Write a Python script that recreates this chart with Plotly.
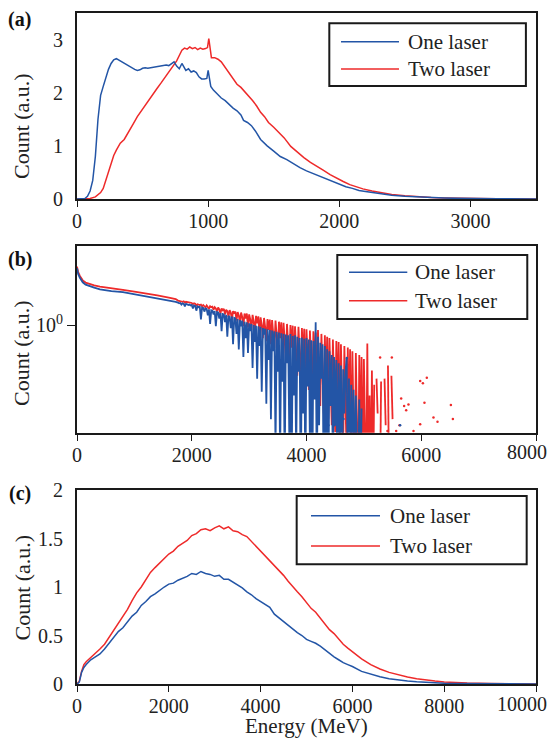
import plotly.graph_objects as go

BLUE = "#2355a6"
RED = "#ee2a2a"
INK = "#1a1a1a"
FONT = "Liberation Serif"

# ---- panel (a): linear spectra ----
energy_a_one = [0, 40, 60, 80, 100, 120, 140, 160, 180, 200, 220, 240, 260, 280, 300,
                320, 340, 360, 380, 400, 420, 440, 460, 480, 500, 520, 540, 560, 580,
                600, 620, 640, 660, 680, 700, 720, 740, 760, 780, 800, 810, 830, 850,
                870, 890, 910, 930, 950, 970, 990, 1000, 1010, 1020, 1040, 1060, 1080,
                1100, 1130, 1160, 1190, 1220, 1250, 1270, 1300, 1330, 1360, 1400, 1450,
                1500, 1550, 1600, 1650, 1700, 1750, 1800, 1850, 1900, 1950, 2000, 2050,
                2100, 2150, 2200, 2300, 2400, 2500, 2600, 2700, 2800, 2900, 3000, 3200,
                3500]
count_a_one = [0, 0, 0.01, 0.05, 0.15, 0.35, 0.8, 1.5, 1.95, 2.12, 2.3, 2.44, 2.55, 2.62,
               2.64, 2.61, 2.58, 2.56, 2.53, 2.5, 2.47, 2.44, 2.42, 2.43, 2.46, 2.47, 2.46,
               2.47, 2.47, 2.49, 2.5, 2.51, 2.51, 2.52, 2.51, 2.55, 2.58, 2.5, 2.45, 2.55,
               2.5, 2.42, 2.45, 2.39, 2.41, 2.38, 2.3, 2.26, 2.26, 2.27, 2.42, 2.3, 2.12,
               2.05, 2.0, 1.95, 1.9, 1.85, 1.78, 1.71, 1.66, 1.58, 1.48, 1.44, 1.38, 1.28,
               1.12, 1.0, 0.9, 0.8, 0.74, 0.66, 0.59, 0.53, 0.48, 0.42, 0.37, 0.32, 0.27,
               0.23, 0.2, 0.16, 0.14, 0.1, 0.07, 0.05, 0.035, 0.025, 0.018, 0.012, 0.008,
               0.004, 0.002]
energy_a_two = [0, 60, 100, 140, 180, 200, 230, 260, 280, 300, 330, 360, 380, 400, 430,
                460, 490, 520, 550, 580, 610, 640, 670, 700, 730, 760, 780, 800, 820, 840,
                860, 880, 900, 920, 940, 960, 980, 995, 1005, 1015, 1025, 1050, 1075, 1100,
                1130, 1160, 1190, 1220, 1250, 1280, 1310, 1340, 1370, 1400, 1430, 1460,
                1500, 1540, 1580, 1630, 1680, 1730, 1780, 1830, 1880, 1930, 1980, 2030,
                2080, 2130, 2180, 2250, 2330, 2400, 2500, 2600, 2700, 2800, 2900, 3000,
                3200, 3500]
count_a_two = [0, 0, 0.01, 0.04, 0.12, 0.2, 0.45, 0.68, 0.82, 0.92, 1.05, 1.12, 1.2, 1.28,
               1.42, 1.55, 1.66, 1.76, 1.88, 1.98, 2.08, 2.18, 2.28, 2.38, 2.48, 2.6, 2.7,
               2.8, 2.84, 2.82, 2.86, 2.83, 2.85, 2.81, 2.84, 2.82, 2.83, 2.85, 3.02, 2.8,
               2.66, 2.66, 2.63, 2.58, 2.48, 2.38, 2.28, 2.16, 2.1, 2.02, 1.95, 1.85, 1.75,
               1.63, 1.55, 1.44, 1.35, 1.25, 1.15, 0.99, 0.88, 0.78, 0.69, 0.62, 0.54, 0.46,
               0.39, 0.33, 0.27, 0.23, 0.19, 0.15, 0.11, 0.085, 0.06, 0.04, 0.028, 0.019,
               0.012, 0.008, 0.004, 0.002]

# ---- panel (b): log spectra ----
energy_b = [0, 20, 50, 100, 150, 200, 300, 400, 500, 600, 800, 1000, 1200, 1400, 1600,
            1720,
            1760, 1780, 1800, 1820, 1840, 1860, 1880, 1900, 1920, 1940,
            1960, 1980, 2000, 2020, 2040, 2060, 2080, 2100, 2120, 2140,
            2160, 2180, 2200, 2220, 2240, 2260, 2280, 2300, 2320, 2340,
            2360, 2380, 2400, 2420, 2440, 2460, 2480, 2500, 2520, 2540,
            2560, 2580, 2600, 2620, 2640, 2660, 2680, 2700, 2720, 2740,
            2760, 2780, 2800, 2820, 2840, 2860, 2880, 2900, 2920, 2940,
            2960, 2980, 3000, 3020, 3040, 3060, 3080, 3100, 3120, 3140,
            3160, 3180, 3200, 3220, 3240, 3260, 3280, 3300, 3320, 3340,
            3360, 3380, 3400, 3420, 3440, 3460, 3480, 3500, 3520, 3540,
            3560, 3580, 3600, 3620, 3640, 3660, 3680, 3700, 3720, 3740,
            3760, 3780, 3800, 3820, 3840, 3860, 3880, 3900, 3920, 3940,
            3960, 3980, 4000, 4020, 4040, 4060, 4080, 4100, 4120, 4140,
            4160, 4180, 4200, 4220, 4240, 4260, 4280, 4300, 4320, 4340,
            4360, 4380, 4400, 4420, 4440, 4460, 4480, 4500, 4520, 4540,
            4560, 4580, 4600, 4620, 4640, 4660, 4680, 4700, 4720, 4740,
            4760, 4780, 4800, 4820, 4840, 4860, 4880, 4900, 4920, 4940,
            4960, 4980, 5000, 5020, 5040, 5060, 5080, 5100, 5120, 5140,
            5160, 5180, 5200, 5220, 5240, 5260, 5280, 5300, 5320, 5340,
            5360, 5380, 5400, 5420, 5440, 5460, 5480, 5500, 5520, 5540,
            5560, 5580, 5600]
count_b_one = [2.65, 2.40, 2.25, 2.08, 2.00, 1.96, 1.90, 1.84, 1.81, 1.79, 1.76, 1.70,
               1.65, 1.59, 1.53, 1.49,
               1.47, 1.45, 1.46, 1.42, 1.45, 1.44, 1.38, 1.44, 1.43, 1.41,
               1.42, 1.40, 1.41, 1.33, 1.40, 1.39, 1.28, 1.38, 1.36, 1.37,
               1.10, 1.35, 1.34, 1.26, 1.33, 1.32, 1.18, 1.31, 1.02, 1.29,
               1.28, 1.20, 1.27, 0.98, 1.25, 1.24, 1.12, 1.23, 0.90, 1.21,
               1.20, 1.05, 1.19, 0.82, 1.17, 1.15, 0.95, 1.16, 0.72, 1.13,
               1.12, 0.86, 1.11, 0.66, 1.09, 0.98, 1.08, 0.58, 1.06, 0.80,
               1.05, 0.62, 1.03, 0.90, 1.02, 0.48, 1.00, 0.75, 0.99, 0.40,
               0.98, 0.70, 0.97, 0.32, 0.95, 0.85, 0.94, 0.26, 0.93, 0.55,
               0.92, 0.20, 0.91, 0.64, 0.90, 0.12, 0.89, 0.45, 0.88, 0.10,
               0.87, 0.38, 0.86, 0.08, 0.85, 0.52, 0.84, 0.15, 0.86, 0.06,
               0.83, 0.30, 0.84, 0.10, 0.82, 0.45, 0.80, 0.05, 0.81, 0.22,
               0.79, 0.07, 0.80, 0.35, 0.78, 0.12, 0.77, 0.05, 0.76, 0.28,
               1.05, 0.06, 0.82, 0.18, 0.74, 0.40, 0.72, 0.05, 0.70, 0.14,
               0.66, 0.05, 0.64, 0.25, 0.60, 0.08, 0.58, 0.18, 0.55, 0.05,
               0.52, 0.12, 0.50, 0.05, 0.47, 0.22, 0.45, 0.57, 0.05, 0.40,
               0.05, 0.36, 0.10, 0.33, 0.05, 0.30, 0.16, 0.05, 0.28, 0.05,
               0.24, None, None, None, None, None, None, None, None, None,
               None, None, None, None, None, None, None, None, None, None,
               None, None, None, None, None, None, None, None, None, None,
               None, None, None]
count_b_two = [2.72, 2.48, 2.32, 2.15, 2.07, 2.03, 1.97, 1.93, 1.91, 1.88, 1.83, 1.77,
               1.72, 1.66, 1.60, 1.56,
               1.52, 1.51, 1.50, 1.51, 1.49, 1.50, 1.47, 1.49, 1.48, 1.47,
               1.47, 1.45, 1.46, 1.43, 1.45, 1.44, 1.40, 1.43, 1.42, 1.41,
               1.42, 1.38, 1.41, 1.39, 1.35, 1.40, 1.37, 1.32, 1.38, 1.36,
               1.37, 1.30, 1.36, 1.33, 1.26, 1.35, 1.31, 1.22, 1.33, 1.29,
               1.32, 1.20, 1.30, 1.27, 1.15, 1.29, 1.24, 1.10, 1.27, 1.22,
               1.26, 1.08, 1.25, 1.18, 1.04, 1.24, 1.15, 0.98, 1.22, 1.12,
               1.22, 0.96, 1.20, 1.10, 0.92, 1.19, 1.06, 0.88, 1.17, 1.03,
               1.16, 0.84, 1.14, 1.00, 0.80, 1.13, 0.96, 0.76, 1.11, 0.92,
               1.10, 0.72, 1.09, 0.88, 0.68, 1.08, 0.84, 0.64, 1.06, 0.80,
               1.05, 0.60, 1.04, 0.76, 0.55, 1.02, 0.72, 0.50, 1.00, 0.68,
               0.99, 0.46, 0.98, 0.64, 0.42, 0.97, 0.60, 0.38, 0.95, 0.56,
               0.94, 0.36, 0.93, 0.52, 0.33, 0.91, 0.48, 0.30, 0.90, 0.45,
               0.88, 0.28, 0.92, 0.42, 0.25, 0.86, 0.38, 0.22, 0.84, 0.35,
               0.82, 0.20, 0.80, 0.32, 0.18, 0.78, 0.28, 0.16, 0.76, 0.25,
               0.75, 0.14, 0.72, 0.24, 0.12, 0.70, 0.20, 0.10, 0.68, 0.18,
               0.66, 0.08, 0.64, 0.16, 0.06, 0.62, 0.14, 0.05, 0.60, 0.12,
               0.58, 0.05, 0.56, 0.10, 0.05, 0.73, 0.05, 0.30, 0.05, 0.46,
               0.05, 0.36, None, 0.40, 0.22, None, 0.05, 0.38, None, None,
               0.40, 0.18, None, 0.50, 0.05, None, 0.42, 0.20, None, None,
               0.30, None, None]
# isolated non-zero bins in the tail
energy_b_two_dots = [5283, 5411, 5487, 5563, 5621, 5650, 5702, 5737, 5777, 5865, 5981,
                     5981, 6028, 6056, 6097, 6213, 6283, 6516, 6551]
count_b_two_dots = [0.575, 0.163, 0.575, 0.163, 0.18, 0.285, 0.25, 0.233, 0.257, 0.163,
                    0.384, 0.183, 0.369, 0.265, 0.406, 0.206, 0.191, 0.255, 0.20]
energy_b_one_dots = [4382, 4486, 4586, 4644, 4703, 5632]
count_b_one_dots = [0.18, 0.18, 0.19, 0.20, 0.57, 0.18]

# ---- panel (c): linear spectra ----
energy_c = [0, 50, 100, 150, 200, 300, 400, 500, 600, 700, 800, 900, 1000, 1100, 1200,
            1300, 1400, 1500, 1600, 1700, 1800, 1900, 2000, 2100, 2200, 2300, 2400, 2500,
            2600, 2700, 2800, 2900, 3000, 3100, 3200, 3300, 3400, 3500, 3600, 3700, 3800,
            3900, 4000, 4100, 4200, 4300, 4400, 4500, 4600, 4700, 4800, 4900, 5000, 5100,
            5200, 5300, 5400, 5500, 5600, 5700, 5800, 5900, 6000, 6200, 6400, 6600, 6800,
            7000, 7200, 7400, 7600, 7800, 8000, 8200, 8500, 9000, 9500, 10000]
count_c_one = [0, 0.02, 0.12, 0.17, 0.2, 0.25, 0.28, 0.31, 0.36, 0.42, 0.47, 0.54, 0.58,
               0.64, 0.70, 0.74, 0.81, 0.85, 0.90, 0.93, 0.97, 1.0, 1.03, 1.04, 1.07, 1.09,
               1.11, 1.14, 1.13, 1.16, 1.14, 1.13, 1.11, 1.12, 1.08, 1.08, 1.05, 1.02, 0.99,
               0.95, 0.92, 0.88, 0.85, 0.82, 0.79, 0.72, 0.68, 0.64, 0.60, 0.56, 0.53, 0.50,
               0.46, 0.44, 0.42, 0.39, 0.35, 0.31, 0.28, 0.25, 0.22, 0.20, 0.18, 0.13, 0.10,
               0.075, 0.055, 0.04, 0.03, 0.022, 0.016, 0.011, 0.008, 0.006, 0.004, 0.002,
               0.001, 0]
count_c_two = [0, 0.03, 0.13, 0.2, 0.23, 0.27, 0.31, 0.36, 0.41, 0.48, 0.55, 0.62, 0.69,
               0.77, 0.86, 0.94, 1.0, 1.08, 1.15, 1.20, 1.25, 1.30, 1.34, 1.37, 1.42, 1.45,
               1.48, 1.53, 1.55, 1.59, 1.60, 1.58, 1.61, 1.63, 1.60, 1.62, 1.58, 1.57, 1.54,
               1.52, 1.47, 1.42, 1.38, 1.33, 1.28, 1.22, 1.17, 1.12, 1.06, 1.0, 0.95, 0.90,
               0.84, 0.78, 0.74, 0.68, 0.62, 0.56, 0.52, 0.46, 0.41, 0.37, 0.33, 0.26, 0.20,
               0.155, 0.12, 0.095, 0.072, 0.055, 0.04, 0.03, 0.021, 0.015, 0.01, 0.005,
               0.002, 0]

legend_names = ["One laser", "Two laser"]

fig = go.Figure()

panels = [
    ("x", "y", energy_a_two, count_a_two, energy_a_one, count_a_one, 1.5),
    ("x2", "y2", energy_b, count_b_two, energy_b, count_b_one, 1.8),
    ("x3", "y3", energy_c, count_c_two, energy_c, count_c_one, 1.5),
]
for xa, ya, ex2, c2, ex1, c1, lw in panels:
    fig.add_trace(go.Scatter(x=ex2, y=c2, mode="lines", line=dict(color=RED, width=lw),
                             xaxis=xa, yaxis=ya, showlegend=False, connectgaps=False))
    fig.add_trace(go.Scatter(x=ex1, y=c1, mode="lines", line=dict(color=BLUE, width=lw),
                             xaxis=xa, yaxis=ya, showlegend=False, connectgaps=False))

fig.add_trace(go.Scatter(x=energy_b_two_dots, y=count_b_two_dots, mode="markers",
                         marker=dict(color=RED, size=2.5), xaxis="x2", yaxis="y2",
                         showlegend=False))
fig.add_trace(go.Scatter(x=energy_b_one_dots, y=count_b_one_dots, mode="markers",
                         marker=dict(color=BLUE, size=2.5), xaxis="x2", yaxis="y2",
                         showlegend=False))

tickfont = dict(family=FONT, size=20, color="#222")
axis_style = dict(showline=True, mirror=True, linecolor=INK, linewidth=2, showgrid=False,
                  zeroline=False, tickfont=tickfont, tickcolor=INK, automargin=False)
x_ticks = dict(ticks="outside", ticklen=6, ticklabelstandoff=-3)


def ticks(vals, hide_last=False):
    text = [str(v) for v in vals]
    if hide_last:
        text[-1] = ""
    return dict(tickvals=vals, ticktext=text)


# page body adds an 8px offset, so the figure is 16px smaller than the window
fig.update_layout(
    template="none",
    width=542, height=731,
    margin=dict(l=69, r=14, t=5, b=55),
    paper_bgcolor="white", plot_bgcolor="white",
    font=dict(family=FONT, color="#222"),
    xaxis=dict(axis_style, domain=[0, 1], range=[0, 3500], anchor="y",
               **x_ticks, **ticks([0, 1000, 2000, 3000])),
    yaxis=dict(axis_style, domain=[0.7228, 1.0], range=[0, 3.5], anchor="x",
               ticks="", ticklabelstandoff=8, **ticks([0, 1, 2, 3])),
    xaxis2=dict(axis_style, domain=[0, 1], range=[0, 8000], anchor="y2",
                **x_ticks, **ticks([0, 2000, 4000, 6000, 8000], True)),
    yaxis2=dict(axis_style, domain=[0.3745, 0.6532], type="log", range=[-0.8, 0.59],
                anchor="x2", tickvals=[1], ticktext=["10<sup>0</sup>"], ticks="outside",
                ticklen=8),
    xaxis3=dict(axis_style, domain=[0, 1], range=[0, 10000], anchor="y3",
                **x_ticks, **ticks([0, 2000, 4000, 6000, 8000, 10000], True)),
    yaxis3=dict(axis_style, domain=[0, 0.2891], range=[0, 2], anchor="x3",
                ticks="", ticklabelstandoff=8, tickvals=[0, 0.5, 1, 1.5, 2],
                ticktext=["0", "0.5", "1", "1.5", "2"]),
)

# last tick labels sit at the page edge, so they are right-aligned there
for label, ypos in [("8000", 0.3458), ("10000", -0.0298)]:
    fig.add_annotation(text=label, xref="paper", yref="paper", x=1.0283, y=ypos,
                       xanchor="right", yanchor="middle", showarrow=False, font=tickfont)

# axis titles and panel tags
for ypos in [0.8316, 0.4933, 0.1438]:
    fig.add_annotation(text="Count (a.u.)", xref="paper", yref="paper", x=-0.1198, y=ypos,
                       xanchor="center", yanchor="middle", textangle=-90, showarrow=False,
                       font=dict(family=FONT, size=22))
fig.add_annotation(text="Energy (MeV)", xref="paper", yref="paper", x=0.499, y=-0.0626,
                   xanchor="center", yanchor="middle", showarrow=False,
                   font=dict(family=FONT, size=21))
for tag, ypos in [("(a)", 0.9896), ("(b)", 0.6319), ("(c)", 0.2846)]:
    fig.add_annotation(text="<b>%s</b>" % tag, xref="paper", yref="paper", x=-0.1242,
                       y=ypos, xanchor="center", yanchor="middle", showarrow=False,
                       font=dict(family=FONT, size=20, color="#111"))

# boxed legends, one per panel
legend_boxes = [
    ("x", "y", [0.5497, 0.978, 0.6075, 0.9446], [0.5752, 0.7015], [0.8457, 0.699], 0.7168),
    ("x2", "y2", [0.5671, 0.981, 0.608, 0.9503], [0.5926, 0.7196], [0.8578, 0.7059], 0.7327),
    ("x3", "y3", [0.4786, 0.9797, 0.6176, 0.969], [0.5098, 0.6601], [0.8677, 0.7118], 0.6782),
]
for xa, ya, box, line_x, rows, text_x in legend_boxes:
    xr, yr = xa + " domain", ya + " domain"
    fig.add_shape(type="rect", xref=xr, yref=yr, x0=box[0], x1=box[1], y0=box[2], y1=box[3],
                  line=dict(color=INK, width=2), fillcolor="white")
    for name, color, yrow in zip(legend_names, [BLUE, RED], rows):
        fig.add_shape(type="line", xref=xr, yref=yr, x0=line_x[0], x1=line_x[1],
                      y0=yrow, y1=yrow, line=dict(color=color, width=1.5))
        fig.add_annotation(text=name, xref=xr, yref=yr, x=text_x, y=yrow, xanchor="left",
                           yanchor="middle", showarrow=False,
                           font=dict(family=FONT, size=21, color="#222"))

fig.write_html("out.html")
